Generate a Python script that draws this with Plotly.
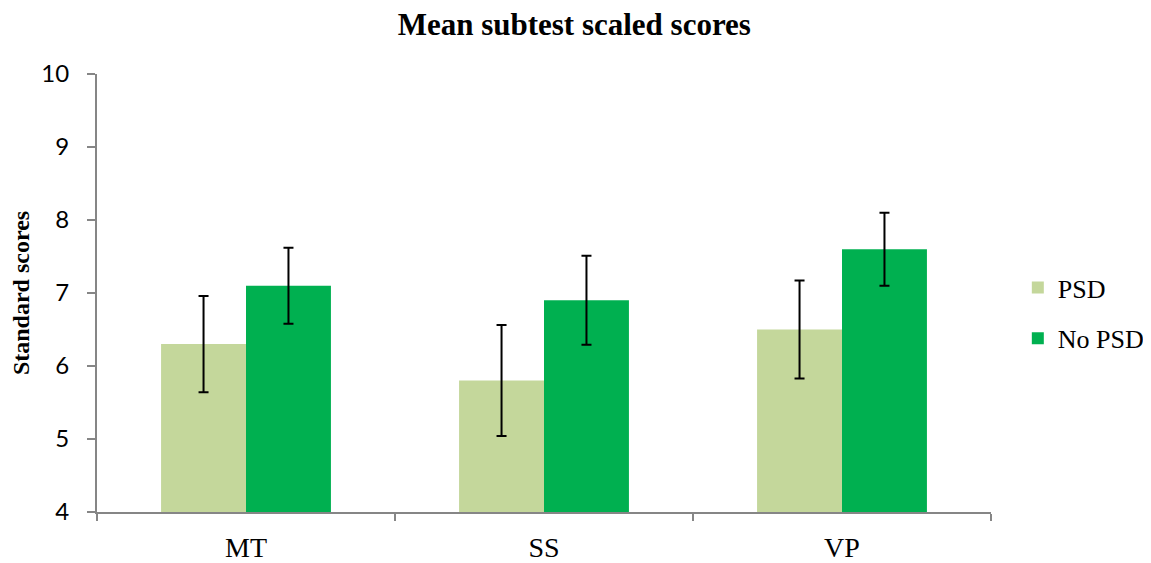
import plotly.graph_objects as go

categories = ["MT", "SS", "VP"]
psd_values = [6.3, 5.8, 6.5]
psd_errors = [0.66, 0.76, 0.67]
nopsd_values = [7.1, 6.9, 7.6]
nopsd_errors = [0.52, 0.61, 0.50]
y_ticks = [4, 5, 6, 7, 8, 9, 10]

serif = "Liberation Serif, DejaVu Serif, serif"
sans = "Lato, Open Sans, sans-serif"

fig = go.Figure()
fig.add_trace(go.Bar(
    x=categories, y=psd_values, name="PSD", legendgroup="a",
    marker=dict(color="#C4D79B", line=dict(width=0)),
    error_y=dict(type="data", array=psd_errors, color="black", thickness=2, width=5),
))
fig.add_trace(go.Bar(
    x=categories, y=nopsd_values, name="No PSD", legendgroup="b",
    marker=dict(color="#00B050", line=dict(width=0)),
    error_y=dict(type="data", array=nopsd_errors, color="black", thickness=2, width=5),
))

fig.update_layout(
    width=1151, height=563,
    margin=dict(l=89, r=168, t=66, b=59, autoexpand=False),
    paper_bgcolor="white", plot_bgcolor="white",
    barmode="group", bargap=0.43, bargroupgap=0,
    title=dict(text="<b>Mean subtest scaled scores</b>", x=0.492, xref="container",
               xanchor="center", y=0.972, yref="container", yanchor="middle",
               font=dict(family=serif, size=31, color="black")),
    legend=dict(x=1.03, xanchor="left", y=0.454, yanchor="middle",
                font=dict(family=serif, size=26, color="black"),
                tracegroupgap=14, itemsizing="constant"),
    xaxis=dict(showline=True, linecolor="#868686", linewidth=2, automargin=False,
               ticks="outside", tickson="boundaries", ticklen=7, tickcolor="#868686",
               tickwidth=2, ticklabelstandoff=9,
               tickfont=dict(family=serif, size=28, color="black"), showgrid=False),
    yaxis=dict(range=[4, 10], tickvals=y_ticks, showline=True, linecolor="#868686",
               linewidth=2, ticks="outside", ticklen=8, tickcolor="#868686", tickwidth=2,
               ticklabelstandoff=13, automargin=False,
               tickfont=dict(family=sans, size=24, color="black"), showgrid=False,
               zeroline=False,
               title=dict(text="<b>Standard scores</b>", standoff=9,
                          font=dict(family=serif, size=24, color="black"))),
)

fig.write_html("out.html")
